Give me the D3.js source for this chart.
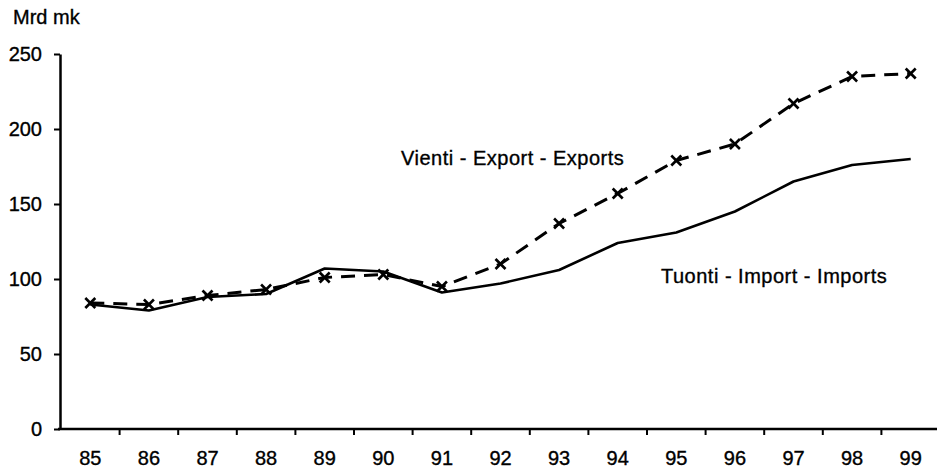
<!DOCTYPE html>
<html>
<head>
<meta charset="utf-8">
<script src="https://cdn.jsdelivr.net/npm/d3@7"></script>
<style>
    body { margin: 0; background: #fff; }
    #chart { width: 937px; height: 470px; }
    text { font-family: "Liberation Sans", Arial, sans-serif; fill: #000; stroke: #000; stroke-width: 0.35px; }
</style>
</head>
<body>
<div id="chart"></div>
<script>

// data
let years = ['85', '86', '87', '88', '89', '90', '91', '92', '93', '94', '95', '96', '97', '98', '99'];
let imports = [83, 79, 88, 90, 107, 105, 91, 97, 106, 124, 131, 145, 165, 176, 180];
let exports = [84, 83, 89, 93, 101, 103, 95, 110, 137, 157, 179, 190, 217, 235, 237];
let yTicks = [0, 50, 100, 150, 200, 250];

let unitLabel = 'Mrd mk';
let exportLabel = 'Vienti - Export - Exports';
let importLabel = 'Tuonti - Import - Imports';


class LineChart {

    constructor(_parentElement) {
        this.parentElement = _parentElement;
        this.initVis();
    }

    initVis() {
        let vis = this;

        vis.width = 937;
        vis.height = 470;

        vis.svg = d3.select("#" + vis.parentElement).append("svg")
            .attr("width", vis.width)
            .attr("height", vis.height);

        // scales
        vis.x = d3.scaleBand()
            .domain(years)
            .range([61, 940]);

        vis.y = d3.scaleLinear()
            .domain([0, 250])
            .range([429, 54]);

        vis.updateVis();
    }

    updateVis() {
        let vis = this;

        // y axis
        let yAxis = d3.axisLeft(vis.y)
            .tickValues(yTicks)
            .tickSize(6)
            .tickSizeOuter(0)
            .tickPadding(10);

        let gy = vis.svg.append("g")
            .attr("transform", "translate(60,0)")
            .call(yAxis);

        gy.select(".domain").attr("stroke-width", 2.5);
        gy.selectAll(".tick line").attr("stroke-width", 2);
        gy.selectAll(".tick text")
            .attr("font-size", "20px")
            .attr("dx", "-0.1em")
            .style("font-family", '"Liberation Sans", Arial, sans-serif');

        // x axis: labels in band centres, ticks on band edges
        let xAxis = d3.axisBottom(vis.x)
            .tickSize(0)
            .tickPadding(22);

        let gx = vis.svg.append("g")
            .attr("transform", "translate(0,429)")
            .call(xAxis);

        gx.select(".domain").remove();
        gx.selectAll(".tick text")
            .attr("font-size", "20px")
            .style("font-family", '"Liberation Sans", Arial, sans-serif');

        vis.svg.append("line")
            .attr("x1", 58).attr("x2", 937)
            .attr("y1", 429).attr("y2", 429)
            .attr("stroke", "#000")
            .attr("stroke-width", 2.5);

        vis.svg.append("g").selectAll("line")
            .data(years.slice(1))
            .enter().append("line")
            .attr("x1", d => vis.x(d))
            .attr("x2", d => vis.x(d))
            .attr("y1", 429)
            .attr("y2", 435)
            .attr("stroke", "#000")
            .attr("stroke-width", 2);

        let line = d3.line()
            .x((d, i) => vis.x(years[i]) + vis.x.bandwidth() / 2)
            .y(d => vis.y(d));

        // imports: solid
        vis.svg.append("path")
            .datum(imports)
            .attr("d", line)
            .attr("fill", "none")
            .attr("stroke", "#000")
            .attr("stroke-width", 2.6)
            .attr("stroke-linejoin", "round");

        // exports: dashed with x markers
        vis.svg.append("path")
            .datum(exports)
            .attr("d", line)
            .attr("fill", "none")
            .attr("stroke", "#000")
            .attr("stroke-width", 3)
            .attr("stroke-dasharray", "14,9");

        let s = 5;
        let markers = vis.svg.append("g").selectAll("g")
            .data(exports)
            .enter().append("g")
            .attr("transform", (d, i) => "translate(" + (vis.x(years[i]) + vis.x.bandwidth() / 2) + "," + vis.y(d) + ")");

        markers.append("line")
            .attr("x1", -s).attr("y1", -s).attr("x2", s).attr("y2", s)
            .attr("stroke", "#000").attr("stroke-width", 2.6);
        markers.append("line")
            .attr("x1", -s).attr("y1", s).attr("x2", s).attr("y2", -s)
            .attr("stroke", "#000").attr("stroke-width", 2.6);

        // texts
        vis.svg.append("text")
            .text(unitLabel)
            .attr("x", 13)
            .attr("y", 24)
            .attr("font-size", "20px");

        vis.svg.append("text")
            .text(exportLabel)
            .attr("x", 401)
            .attr("y", 165)
            .attr("font-size", "20px")
            .attr("letter-spacing", "0.5px");

        vis.svg.append("text")
            .text(importLabel)
            .attr("x", 661)
            .attr("y", 283)
            .attr("font-size", "20px")
            .attr("letter-spacing", "0.5px");
    }
}

new LineChart("chart");
</script>
</body>
</html>
